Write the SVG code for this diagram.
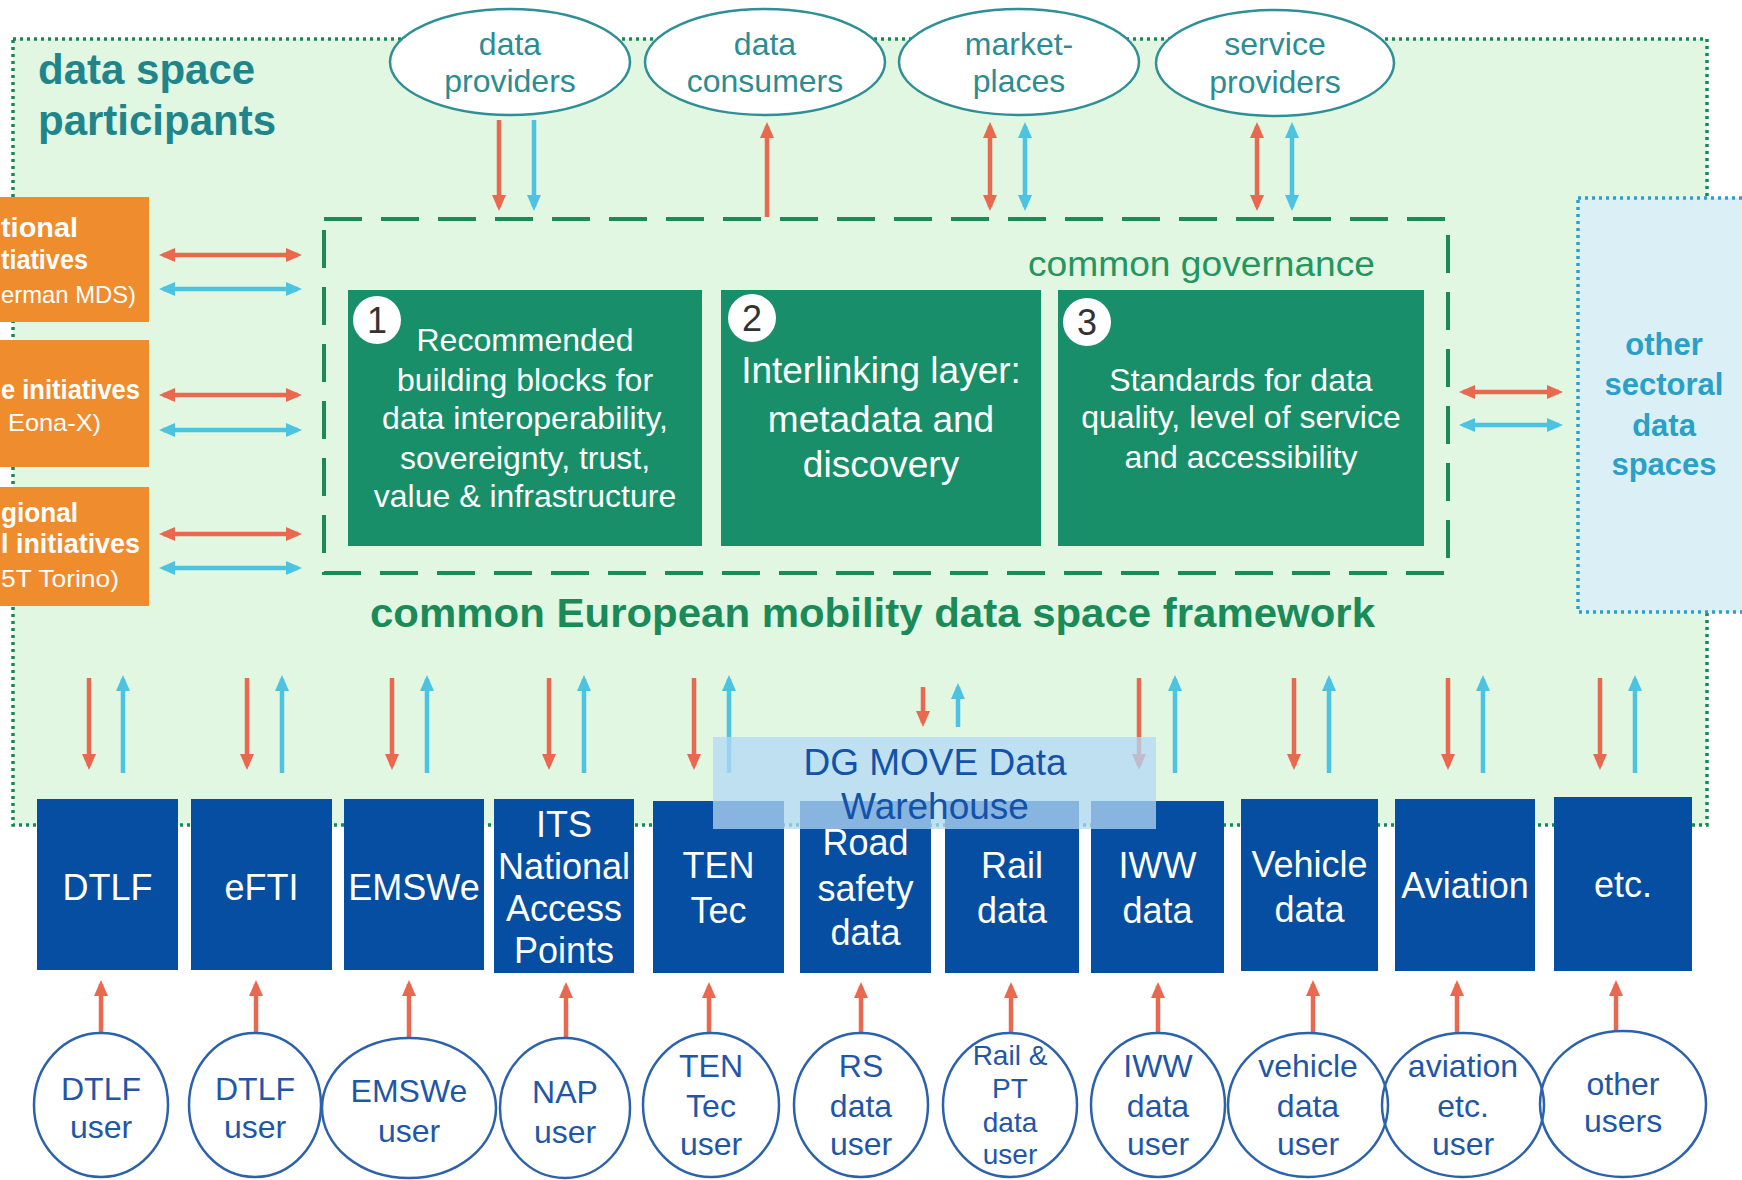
<svg xmlns="http://www.w3.org/2000/svg" width="1742" height="1180" viewBox="0 0 1742 1180">
<defs>
<style>
text{font-family:"Liberation Sans",Arial,sans-serif}
.ttl{font-size:42px;font-weight:bold;fill:#20858a}
.top{fill:#fff;stroke:#2f8f96;stroke-width:2.5}
.toptx{font-size:32px;fill:#2b8c92;text-anchor:middle}
.org{fill:#ef8c2e}
.orgb{font-size:27px;font-weight:bold;fill:#fff}
.orgr{font-size:24px;fill:#fff}
.gbox{fill:#188f68}
.gtx{font-size:32px;fill:#fff;text-anchor:middle}
.gtx2{font-size:37px;fill:#fff;text-anchor:middle}
.num{fill:#fff}
.numtx{font-size:36px;fill:#333;text-anchor:middle}
.bbox{fill:#054ea1}
.btx{font-size:36px;fill:#fff;text-anchor:middle}
.usr{fill:none;stroke:#2c62ac;stroke-width:2.5}
.utx{font-size:32px;fill:#1f57a6;text-anchor:middle}
.utxs{font-size:28px;fill:#1f57a6;text-anchor:middle}
.r1{stroke:#e8694f;stroke-width:4.5;fill:none;marker-end:url(#hr)}
.b1{stroke:#4cc3e1;stroke-width:4.5;fill:none;marker-end:url(#hb)}
.r2{stroke:#e8694f;stroke-width:4.5;fill:none;marker-start:url(#hr);marker-end:url(#hr)}
.b2{stroke:#4cc3e1;stroke-width:4.5;fill:none;marker-start:url(#hb);marker-end:url(#hb)}
</style>
<marker id="hr" viewBox="0 0 16 14" refX="12" refY="7" markerWidth="16" markerHeight="14" markerUnits="userSpaceOnUse" orient="auto-start-reverse"><path d="M0,0 L16,7 L0,14 z" fill="#e8694f"/></marker>
<marker id="hb" viewBox="0 0 16 14" refX="12" refY="7" markerWidth="16" markerHeight="14" markerUnits="userSpaceOnUse" orient="auto-start-reverse"><path d="M0,0 L16,7 L0,14 z" fill="#4cc3e1"/></marker>
</defs>
<rect x="0" y="0" width="1742" height="1180" fill="#fff"/>

<g id="participants-area">
<rect x="13" y="39" width="1694" height="786" fill="#e1f7e2" stroke="#148a56" stroke-width="3.5" stroke-dasharray="3 4"/>
<text class="ttl" x="38" y="84">data space</text>
<text class="ttl" x="38" y="135">participants</text>
</g>

<g id="governance">
<rect x="324" y="219" width="1124" height="354" fill="none" stroke="#198a58" stroke-width="4" stroke-dasharray="38 19"/>
<text x="1028" y="276" font-size="35" fill="#23955f" textLength="347" lengthAdjust="spacingAndGlyphs">common governance</text>
</g>

<g id="block1">
<rect class="gbox" x="348" y="290" width="354" height="256"/>
<circle class="num" cx="377" cy="320" r="24"/>
<text class="numtx" x="377" y="333">1</text>
<text class="gtx" x="525" y="351">Recommended</text>
<text class="gtx" x="525" y="391">building blocks for</text>
<text class="gtx" x="525" y="429">data interoperability,</text>
<text class="gtx" x="525" y="469">sovereignty, trust,</text>
<text class="gtx" x="525" y="507">value &amp; infrastructure</text>
</g>
<g id="block2">
<rect class="gbox" x="721" y="290" width="320" height="256"/>
<circle class="num" cx="752" cy="318" r="24"/>
<text class="numtx" x="752" y="331">2</text>
<text class="gtx2" x="881" y="383">Interlinking layer:</text>
<text class="gtx2" x="881" y="432">metadata and</text>
<text class="gtx2" x="881" y="477">discovery</text>
</g>
<g id="block3">
<rect class="gbox" x="1058" y="290" width="366" height="256"/>
<circle class="num" cx="1087" cy="322" r="24"/>
<text class="numtx" x="1087" y="335">3</text>
<text class="gtx" x="1241" y="391">Standards for data</text>
<text class="gtx" x="1241" y="428">quality, level of service</text>
<text class="gtx" x="1241" y="468">and accessibility</text>
</g>

<g id="framework-label">
<text x="370" y="627" font-size="41" font-weight="bold" fill="#198a58" textLength="1005" lengthAdjust="spacingAndGlyphs">common European mobility data space framework</text>
</g>

<g id="other-sectoral">
<rect x="1578" y="198" width="180" height="414" fill="#daf0f6" stroke="#2a9fd0" stroke-width="3.5" stroke-dasharray="3 4"/>
<text x="1664" y="355" font-size="31" font-weight="bold" fill="#2a9fc8" text-anchor="middle">other</text>
<text x="1664" y="395" font-size="31" font-weight="bold" fill="#2a9fc8" text-anchor="middle">sectoral</text>
<text x="1664" y="436" font-size="31" font-weight="bold" fill="#2a9fc8" text-anchor="middle">data</text>
<text x="1664" y="475" font-size="31" font-weight="bold" fill="#2a9fc8" text-anchor="middle">spaces</text>
</g>

<g id="national-initiatives">
<rect class="org" x="0" y="197" width="149" height="125"/>
<text class="orgb" x="1" y="237" textLength="77" lengthAdjust="spacingAndGlyphs">tional</text>
<text class="orgb" x="1" y="269" textLength="87" lengthAdjust="spacingAndGlyphs">tiatives</text>
<text class="orgr" x="1" y="303" textLength="135" lengthAdjust="spacingAndGlyphs">erman MDS)</text>
</g>
<g id="european-initiatives">
<rect class="org" x="0" y="340" width="149" height="127"/>
<text class="orgb" x="1" y="399" textLength="139" lengthAdjust="spacingAndGlyphs">e initiatives</text>
<text class="orgr" x="8" y="431" textLength="93" lengthAdjust="spacingAndGlyphs">Eona-X)</text>
</g>
<g id="regional-initiatives">
<rect class="org" x="0" y="487" width="149" height="119"/>
<text class="orgb" x="1" y="522" textLength="77" lengthAdjust="spacingAndGlyphs">gional</text>
<text class="orgb" x="1" y="553" textLength="139" lengthAdjust="spacingAndGlyphs">l initiatives</text>
<text class="orgr" x="1" y="587" textLength="118" lengthAdjust="spacingAndGlyphs">5T Torino)</text>
</g>

<g id="data-providers">
<ellipse class="top" cx="510" cy="62" rx="120" ry="53"/>
<text class="toptx" x="510" y="55">data</text>
<text class="toptx" x="510" y="92">providers</text>
</g>
<g id="data-consumers">
<ellipse class="top" cx="765" cy="62" rx="120" ry="53"/>
<text class="toptx" x="765" y="55">data</text>
<text class="toptx" x="765" y="92">consumers</text>
</g>
<g id="marketplaces">
<ellipse class="top" cx="1019" cy="62" rx="120" ry="53"/>
<text class="toptx" x="1019" y="55">market-</text>
<text class="toptx" x="1019" y="92">places</text>
</g>
<g id="service-providers">
<ellipse class="top" cx="1275" cy="63" rx="119" ry="53"/>
<text class="toptx" x="1275" y="55">service</text>
<text class="toptx" x="1275" y="93">providers</text>
</g>

<g id="box-dtlf"><rect class="bbox" x="37" y="799" width="141" height="171"/><text class="btx" x="107.5" y="900">DTLF</text></g>
<g id="box-efti"><rect class="bbox" x="191" y="799" width="141" height="171"/><text class="btx" x="261.5" y="900">eFTI</text></g>
<g id="box-emswe"><rect class="bbox" x="344" y="799" width="140" height="171"/><text class="btx" x="414" y="900">EMSWe</text></g>
<g id="box-its"><rect class="bbox" x="494" y="799" width="140" height="174"/>
<text class="btx" x="564" y="837">ITS</text><text class="btx" x="564" y="879">National</text><text class="btx" x="564" y="921">Access</text><text class="btx" x="564" y="963">Points</text></g>
<g id="box-tentec"><rect class="bbox" x="653" y="801" width="131" height="172"/><text class="btx" x="718.5" y="878">TEN</text><text class="btx" x="718.5" y="923">Tec</text></g>
<g id="box-road"><rect class="bbox" x="800" y="801" width="131" height="172"/><text class="btx" x="865.5" y="855">Road</text><text class="btx" x="865.5" y="901">safety</text><text class="btx" x="865.5" y="945">data</text></g>
<g id="box-rail"><rect class="bbox" x="945" y="801" width="134" height="172"/><text class="btx" x="1012" y="878">Rail</text><text class="btx" x="1012" y="923">data</text></g>
<g id="box-iww"><rect class="bbox" x="1091" y="801" width="133" height="172"/><text class="btx" x="1157.5" y="878">IWW</text><text class="btx" x="1157.5" y="923">data</text></g>
<g id="box-vehicle"><rect class="bbox" x="1241" y="799" width="137" height="172"/><text class="btx" x="1309.5" y="877">Vehicle</text><text class="btx" x="1309.5" y="922">data</text></g>
<g id="box-aviation"><rect class="bbox" x="1395" y="799" width="140" height="172"/><text class="btx" x="1465" y="898">Aviation</text></g>
<g id="box-etc"><rect class="bbox" x="1554" y="797" width="138" height="174"/><text class="btx" x="1623" y="897">etc.</text></g>

<g id="connectors">
<line class="r1" x1="499" y1="120" x2="499" y2="207"/>
<line class="b1" x1="534" y1="120" x2="534" y2="207"/>
<line class="r1" x1="767" y1="217" x2="767" y2="126"/>
<line class="r2" x1="990" y1="126" x2="990" y2="207"/>
<line class="b2" x1="1025" y1="126" x2="1025" y2="207"/>
<line class="r2" x1="1257" y1="126" x2="1257" y2="207"/>
<line class="b2" x1="1292" y1="126" x2="1292" y2="207"/>

<line class="r2" x1="163" y1="255" x2="298" y2="255"/>
<line class="b2" x1="163" y1="289" x2="298" y2="289"/>
<line class="r2" x1="163" y1="395" x2="298" y2="395"/>
<line class="b2" x1="163" y1="430" x2="298" y2="430"/>
<line class="r2" x1="163" y1="534" x2="298" y2="534"/>
<line class="b2" x1="163" y1="568" x2="298" y2="568"/>

<line class="r2" x1="1463" y1="392" x2="1559" y2="392"/>
<line class="b2" x1="1463" y1="425" x2="1559" y2="425"/>

<line class="r1" x1="89" y1="678" x2="89" y2="766"/>
<line class="b1" x1="123" y1="773" x2="123" y2="679"/>
<line class="r1" x1="247" y1="678" x2="247" y2="766"/>
<line class="b1" x1="282" y1="773" x2="282" y2="679"/>
<line class="r1" x1="392" y1="678" x2="392" y2="766"/>
<line class="b1" x1="427" y1="773" x2="427" y2="679"/>
<line class="r1" x1="549" y1="678" x2="549" y2="766"/>
<line class="b1" x1="584" y1="773" x2="584" y2="679"/>
<line class="r1" x1="694" y1="678" x2="694" y2="766"/>
<line class="b1" x1="729" y1="773" x2="729" y2="679"/>
<line class="r1" x1="923" y1="687" x2="923" y2="723"/>
<line class="b1" x1="958" y1="727" x2="958" y2="687"/>
<line class="r1" x1="1139" y1="678" x2="1139" y2="766"/>
<line class="b1" x1="1175" y1="773" x2="1175" y2="679"/>
<line class="r1" x1="1294" y1="678" x2="1294" y2="766"/>
<line class="b1" x1="1329" y1="773" x2="1329" y2="679"/>
<line class="r1" x1="1448" y1="678" x2="1448" y2="766"/>
<line class="b1" x1="1483" y1="773" x2="1483" y2="679"/>
<line class="r1" x1="1600" y1="678" x2="1600" y2="766"/>
<line class="b1" x1="1635" y1="773" x2="1635" y2="679"/>

<line class="r1" x1="101" y1="1034" x2="101" y2="984"/>
<line class="r1" x1="256" y1="1034" x2="256" y2="984"/>
<line class="r1" x1="409" y1="1038" x2="409" y2="984"/>
<line class="r1" x1="566" y1="1038" x2="566" y2="986"/>
<line class="r1" x1="709" y1="1033" x2="709" y2="986"/>
<line class="r1" x1="861" y1="1033" x2="861" y2="986"/>
<line class="r1" x1="1011" y1="1033" x2="1011" y2="986"/>
<line class="r1" x1="1158" y1="1033" x2="1158" y2="986"/>
<line class="r1" x1="1313" y1="1033" x2="1313" y2="984"/>
<line class="r1" x1="1457" y1="1033" x2="1457" y2="984"/>
<line class="r1" x1="1616" y1="1031" x2="1616" y2="984"/>
</g>

<g id="dg-move-warehouse">
<rect x="713" y="737" width="443" height="92" fill="#b3d8f6" fill-opacity="0.75"/>
<text x="935" y="775" font-size="37" fill="#1252a8" text-anchor="middle">DG MOVE Data</text>
<text x="935" y="819" font-size="37" fill="#1252a8" text-anchor="middle">Warehouse</text>
</g>

<g id="user-dtlf"><ellipse class="usr" cx="101" cy="1105" rx="67" ry="72"/><text class="utx" x="101" y="1100">DTLF</text><text class="utx" x="101" y="1138">user</text></g>
<g id="user-dtlf-2"><ellipse class="usr" cx="255" cy="1105" rx="66" ry="72"/><text class="utx" x="255" y="1100">DTLF</text><text class="utx" x="255" y="1138">user</text></g>
<g id="user-emswe"><ellipse class="usr" cx="409" cy="1108" rx="87" ry="70"/><text class="utx" x="409" y="1102">EMSWe</text><text class="utx" x="409" y="1142">user</text></g>
<g id="user-nap"><ellipse class="usr" cx="565" cy="1108" rx="65" ry="70"/><text class="utx" x="565" y="1103">NAP</text><text class="utx" x="565" y="1143">user</text></g>
<g id="user-tentec"><ellipse class="usr" cx="711" cy="1105" rx="68" ry="72"/><text class="utx" x="711" y="1077">TEN</text><text class="utx" x="711" y="1117">Tec</text><text class="utx" x="711" y="1155">user</text></g>
<g id="user-rs"><ellipse class="usr" cx="861" cy="1105" rx="67" ry="72"/><text class="utx" x="861" y="1077">RS</text><text class="utx" x="861" y="1117">data</text><text class="utx" x="861" y="1155">user</text></g>
<g id="user-rail"><ellipse class="usr" cx="1010" cy="1105" rx="67" ry="72"/><text class="utxs" x="1010" y="1065">Rail &amp;</text><text class="utxs" x="1010" y="1098">PT</text><text class="utxs" x="1010" y="1132">data</text><text class="utxs" x="1010" y="1164">user</text></g>
<g id="user-iww"><ellipse class="usr" cx="1158" cy="1105" rx="67" ry="72"/><text class="utx" x="1158" y="1077">IWW</text><text class="utx" x="1158" y="1117">data</text><text class="utx" x="1158" y="1155">user</text></g>
<g id="user-vehicle"><ellipse class="usr" cx="1308" cy="1105" rx="80" ry="72"/><text class="utx" x="1308" y="1077">vehicle</text><text class="utx" x="1308" y="1117">data</text><text class="utx" x="1308" y="1155">user</text></g>
<g id="user-aviation"><ellipse class="usr" cx="1463" cy="1105" rx="81" ry="72"/><text class="utx" x="1463" y="1077">aviation</text><text class="utx" x="1463" y="1117">etc.</text><text class="utx" x="1463" y="1155">user</text></g>
<g id="user-other"><ellipse class="usr" cx="1623" cy="1104" rx="83" ry="73"/><text class="utx" x="1623" y="1095">other</text><text class="utx" x="1623" y="1132">users</text></g>
</svg>
